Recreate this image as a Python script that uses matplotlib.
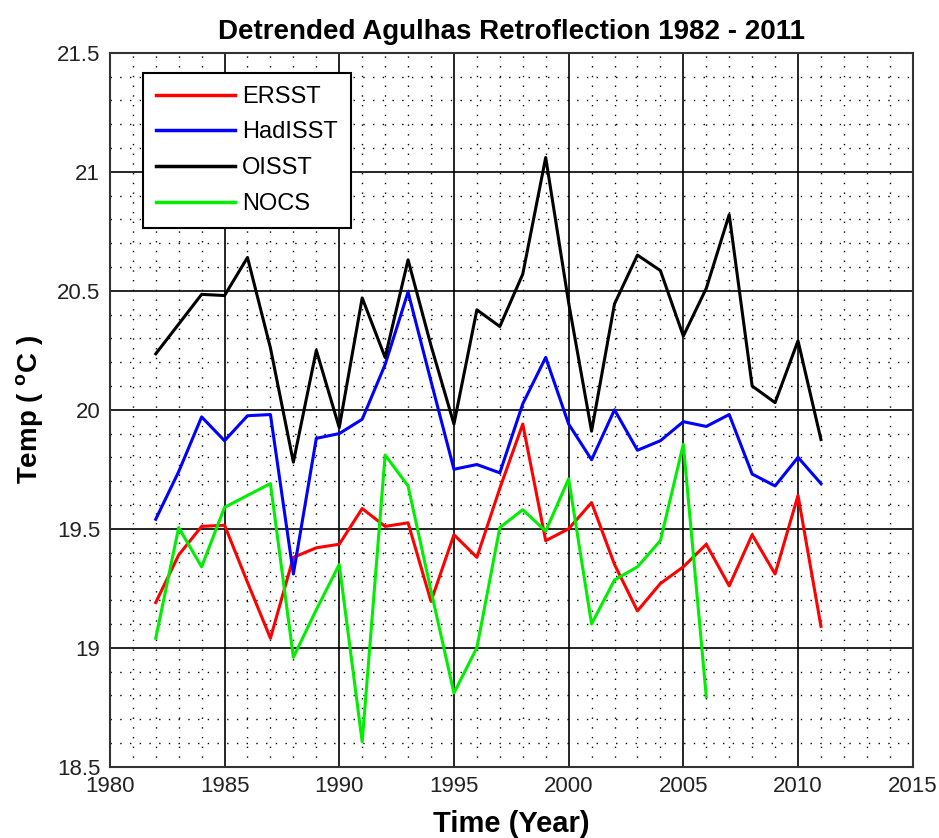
import numpy as np
import matplotlib
matplotlib.use("Agg")
import matplotlib.pyplot as plt
from matplotlib.ticker import MultipleLocator

plt.rcParams["font.family"] = ["Liberation Sans", "DejaVu Sans"]

years = np.arange(1982, 2012)
nocs_years = np.arange(1982, 2007)

ersst = [19.19, 19.39, 19.51, 19.515, 19.275, 19.04, 19.38, 19.42, 19.435, 19.585,
         19.51, 19.525, 19.195, 19.475, 19.38, 19.67, 19.94, 19.45, 19.50, 19.61,
         19.35, 19.155, 19.27, 19.34, 19.435, 19.26, 19.475, 19.31, 19.64, 19.09]
hadisst = [19.54, 19.74, 19.97, 19.87, 19.975, 19.98, 19.31, 19.88, 19.90, 19.96,
           20.19, 20.495, 20.12, 19.75, 19.77, 19.735, 20.025, 20.22, 19.94, 19.79,
           20.00, 19.83, 19.87, 19.95, 19.93, 19.98, 19.73, 19.68, 19.80, 19.69]
oisst = [20.235, 20.36, 20.485, 20.48, 20.64, 20.26, 19.78, 20.25, 19.925, 20.47,
         20.22, 20.63, 20.27, 19.94, 20.42, 20.35, 20.57, 21.06, 20.45, 19.91,
         20.445, 20.65, 20.585, 20.31, 20.51, 20.82, 20.10, 20.03, 20.29, 19.875]
nocs = [19.04, 19.505, 19.34, 19.59, 19.64, 19.69, 18.96, 19.16, 19.35, 18.605,
        19.81, 19.68, 19.24, 18.81, 19.00, 19.505, 19.58, 19.49, 19.71, 19.10,
        19.285, 19.34, 19.45, 19.855, 18.795]

fig = plt.figure(figsize=(9.39, 8.38), dpi=100)
ax = fig.add_axes([0.117, 0.085, 0.855, 0.852])

ax.plot(years, ersst, color="#ff0000", lw=2.2, label="ERSST")
ax.plot(years, hadisst, color="#0000ff", lw=2.2, label="HadISST")
ax.plot(years, oisst, color="#000000", lw=2.2, label="OISST")
ax.plot(nocs_years, nocs, color="#00ee00", lw=2.2, label="NOCS")

ax.set_xlim(1980, 2015)
ax.set_ylim(18.5, 21.5)
ax.xaxis.set_major_locator(MultipleLocator(5))
ax.xaxis.set_minor_locator(MultipleLocator(1))
ax.yaxis.set_major_locator(MultipleLocator(0.5))
ax.yaxis.set_minor_locator(MultipleLocator(0.1))
ax.set_yticks([18.5, 19, 19.5, 20, 20.5, 21, 21.5])
ax.set_yticklabels(["18.5", "19", "19.5", "20", "20.5", "21", "21.5"])

ax.grid(which="major", color="black", lw=1.2, ls="-")
ax.grid(which="minor", color="black", lw=1.0, ls=(0, (1, 6)))
ax.set_axisbelow(True)
ax.tick_params(which="both", direction="in", length=0, labelsize=16,
               labelcolor="#222222")
ax.tick_params(axis="x", pad=7)
ax.tick_params(axis="y", pad=7)
for sp in ax.spines.values():
    sp.set_linewidth(1.5)
    sp.set_color("#333333")

ax.set_title("Detrended Agulhas Retroflection 1982 - 2011",
             fontsize=20, fontweight="bold", pad=10)
ax.set_xlabel("Time (Year)", fontsize=21, fontweight="bold", labelpad=9)
ax.set_ylabel("Temp ( $^{\\mathregular{o}}$C )", fontsize=20, fontweight="bold", labelpad=8)

leg = ax.legend(loc="upper left", bbox_to_anchor=(0.041, 0.972), fontsize=17,
                fancybox=False, framealpha=1, edgecolor="black",
                handlelength=3.35, handletextpad=0.3, labelspacing=0.58,
                borderpad=0.55, borderaxespad=0)
leg.get_frame().set_linewidth(1.5)
for line in leg.get_lines():
    line.set_linewidth(2.5)

fig.savefig("out.png", dpi=100)
